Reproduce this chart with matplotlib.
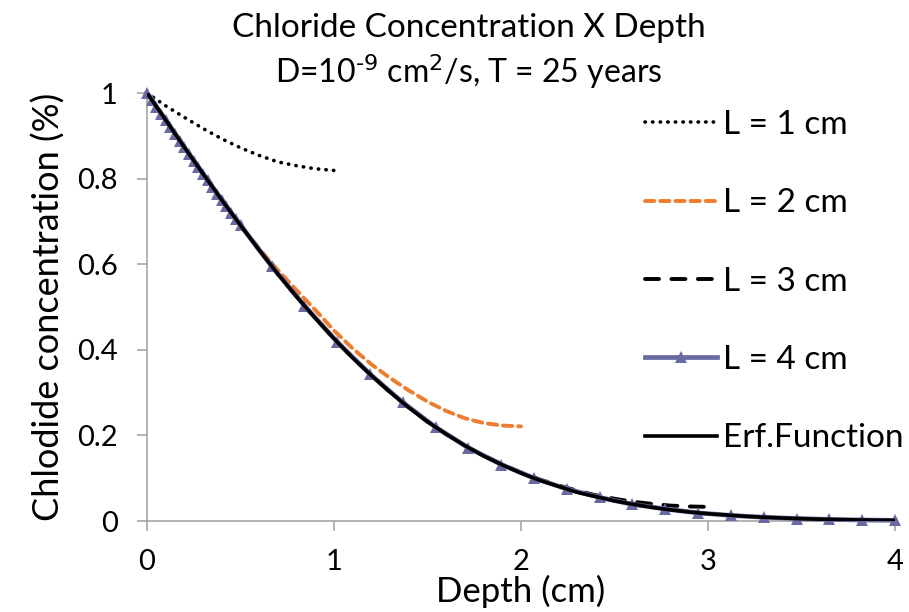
import numpy as np
import matplotlib
matplotlib.use("Agg")
import matplotlib.pyplot as plt

plt.rcParams['font.family'] = ['Lato', 'DejaVu Sans']

# L = 1 cm (dotted)
x_l1 = [0.0, 0.1, 0.2, 0.3, 0.4, 0.5, 0.6, 0.7, 0.8, 0.9, 1.0]
y_l1 = [1.0, 0.970, 0.943, 0.917, 0.893, 0.872, 0.854, 0.839, 0.830, 0.823, 0.819]

# L = 2 cm (orange dashed)
x_l2 = [0.0, 0.1, 0.2, 0.3, 0.4, 0.5, 0.6, 0.7, 0.8, 0.9, 1.0,
        1.1, 1.2, 1.3, 1.4, 1.5, 1.6, 1.7, 1.8, 1.9, 2.0]
y_l2 = [1.0, 0.937, 0.873, 0.811, 0.750, 0.692, 0.636, 0.586, 0.539, 0.493, 0.445,
        0.403, 0.366, 0.334, 0.305, 0.279, 0.257, 0.240, 0.229, 0.223, 0.221]

# L = 3 cm (black dashed)
x_l3 = [0.0, 0.1, 0.2, 0.3, 0.4, 0.5, 0.6, 0.7, 0.8, 0.9, 1.0,
        1.1, 1.2, 1.3, 1.4, 1.5, 1.6, 1.7, 1.8, 1.9, 2.0,
        2.1, 2.2, 2.3, 2.4, 2.5, 2.6, 2.7, 2.8, 2.9, 3.0]
y_l3 = [1.0, 0.937, 0.873, 0.811, 0.750, 0.691, 0.633, 0.577, 0.524, 0.474, 0.426,
        0.381, 0.340, 0.301, 0.265, 0.232, 0.203, 0.176, 0.153, 0.132, 0.113,
        0.097, 0.083, 0.071, 0.060, 0.052, 0.045, 0.040, 0.036, 0.034, 0.033]

# L = 4 cm (purple with triangle markers)
x_l4 = [0.0, 0.025, 0.05, 0.075, 0.1, 0.125, 0.15, 0.175, 0.2, 0.225, 0.25,
        0.275, 0.3, 0.325, 0.35, 0.375, 0.4, 0.425, 0.45, 0.475, 0.5,
        0.667, 0.842, 1.018, 1.193, 1.368, 1.544, 1.719, 1.895, 2.070, 2.245,
        2.421, 2.596, 2.772, 2.947, 3.123, 3.298, 3.474, 3.649, 3.825, 4.0]
y_l4 = [1.0, 0.984, 0.968, 0.952, 0.937, 0.921, 0.905, 0.889, 0.873, 0.858, 0.842,
        0.827, 0.811, 0.796, 0.780, 0.765, 0.750, 0.735, 0.720, 0.705, 0.691,
        0.595, 0.503, 0.418, 0.343, 0.277, 0.219, 0.171, 0.132, 0.100, 0.075,
        0.055, 0.039, 0.028, 0.019, 0.013, 0.0088, 0.0058, 0.0037, 0.0023, 0.0015]

# Erf function (solid black)
x_erf = [0.0, 0.1, 0.2, 0.3, 0.4, 0.5, 0.6, 0.7, 0.8, 0.9, 1.0,
         1.1, 1.2, 1.3, 1.4, 1.5, 1.6, 1.7, 1.8, 1.9, 2.0,
         2.1, 2.2, 2.3, 2.4, 2.5, 2.6, 2.7, 2.8, 2.9, 3.0,
         3.1, 3.2, 3.3, 3.4, 3.5, 3.6, 3.7, 3.8, 3.9, 4.0]
y_erf = [1.0, 0.937, 0.873, 0.811, 0.750, 0.691, 0.633, 0.577, 0.524, 0.474, 0.426,
         0.381, 0.340, 0.301, 0.265, 0.232, 0.203, 0.176, 0.152, 0.131, 0.112,
         0.095, 0.081, 0.067, 0.057, 0.047, 0.039, 0.032, 0.026, 0.021, 0.017,
         0.014, 0.011, 0.0088, 0.0069, 0.0054, 0.0042, 0.0033, 0.0025, 0.0019, 0.0015]

labels = ['L = 1 cm', 'L = 2 cm', 'L = 3 cm', 'L = 4 cm', 'Erf.Function']

fig = plt.figure(figsize=(9.09, 6.12), dpi=100)
ax = fig.add_axes([147 / 909, 1 - 521 / 612, (895 - 147) / 909, (521 - 93) / 612])

ax.plot(x_l1, y_l1, color='black', lw=2.6, linestyle=(0, (0.1, 2.0)),
        dash_capstyle='round', label=labels[0])
ax.plot(x_l2, y_l2, color='#ED7D31', lw=2.8, linestyle=(0, (2.4, 1.5)),
        dash_capstyle='round', label=labels[1])
ax.plot(x_l3, y_l3, color='black', lw=2.8, linestyle=(0, (3.6, 3.2)),
        dash_capstyle='round', label=labels[2])
ax.plot(x_l4, y_l4, color='#6A6AA2', lw=3.4, marker='^', markersize=8.5,
        markeredgewidth=0, label=labels[3], clip_on=False, zorder=3)
ax.plot(x_erf, y_erf, color='black', lw=2.6, label=labels[4], zorder=4)

ax.set_xlim(0, 4)
ax.set_ylim(0, 1)
ax.set_xticks([0, 1, 2, 3, 4])
ax.set_yticks([0, 0.2, 0.4, 0.6, 0.8, 1])
ax.set_yticklabels(['0', '0.2', '0.4', '0.6', '0.8', '1'])

for s in ['top', 'right']:
    ax.spines[s].set_visible(False)
for s in ['left', 'bottom']:
    ax.spines[s].set_color('#A6A6A6')
    ax.spines[s].set_linewidth(1.2)
ax.tick_params(axis='both', colors='#A6A6A6', length=7, width=1.2, labelsize=21,
               labelcolor='black')
ax.tick_params(axis='y', pad=14)
ax.tick_params(axis='x', pad=13)

ax.set_xlabel('Depth (cm)', fontsize=25, labelpad=0)
ax.set_ylabel('Chlodide concentration (%)', fontsize=26, labelpad=8)

fig.text(469 / 909, 1 - 28 / 612, 'Chloride Concentration X Depth', fontsize=24,
         ha='center', va='center')
fig.text(469 / 909, 1 - 72 / 612, 'D=10$^{\\text{-9}}$ cm$^{\\text{2}}$/s, T = 25 years',
         fontsize=23, ha='center', va='center')

leg = fig.legend(loc='upper left', bbox_to_anchor=(645 / 909, 1 - 110 / 612),
                 frameon=False, fontsize=24, handlelength=2.15, handletextpad=0.2,
                 labelspacing=1.45, borderpad=0, borderaxespad=0)

fig.savefig('out.png', dpi=100)
